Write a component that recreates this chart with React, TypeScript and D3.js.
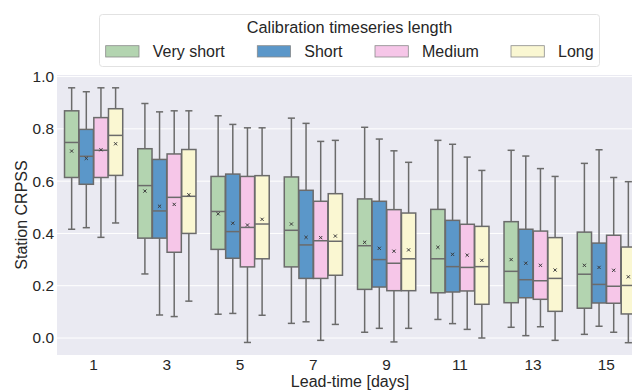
import { useRef, useEffect } from 'react';
import * as d3 from 'd3';

// lead times (x categories)
const leadTimes = ['1', '3', '5', '7', '9', '11', '13', '15'];
const hues = ['Very short', 'Short', 'Medium', 'Long'];
const hueColors = ['#b3d4b0', '#5b97c9', '#f6c6e8', '#faf7d2'];
const yTicks = [0.0, 0.2, 0.4, 0.6, 0.8, 1.0];

// [lowWhisker, q1, median, q3, highWhisker, mean] per lead time
const veryShort = [
    [0.416, 0.614, 0.748, 0.869, 0.957, 0.715],
    [0.245, 0.382, 0.583, 0.724, 0.897, 0.562],
    [0.091, 0.339, 0.484, 0.618, 0.850, 0.475],
    [0.056, 0.272, 0.412, 0.616, 0.841, 0.436],
    [0.022, 0.186, 0.353, 0.532, 0.806, 0.366],
    [0.071, 0.173, 0.303, 0.492, 0.756, 0.347],
    [0.041, 0.135, 0.255, 0.445, 0.718, 0.300],
    [0.014, 0.114, 0.244, 0.405, 0.668, 0.278],
];
const short = [
    [0.422, 0.588, 0.695, 0.798, 0.942, 0.687],
    [0.088, 0.382, 0.486, 0.683, 0.865, 0.504],
    [0.094, 0.305, 0.407, 0.627, 0.817, 0.439],
    [0.062, 0.228, 0.356, 0.565, 0.821, 0.385],
    [0.037, 0.195, 0.300, 0.523, 0.761, 0.343],
    [0.055, 0.176, 0.273, 0.450, 0.741, 0.320],
    [0.009, 0.154, 0.223, 0.416, 0.696, 0.286],
    [0.045, 0.134, 0.205, 0.363, 0.720, 0.270],
];
const medium = [
    [0.385, 0.614, 0.718, 0.843, 0.957, 0.720],
    [0.082, 0.328, 0.538, 0.704, 0.869, 0.511],
    [-0.017, 0.272, 0.423, 0.618, 0.804, 0.432],
    [-0.009, 0.228, 0.372, 0.523, 0.752, 0.384],
    [-0.015, 0.181, 0.286, 0.491, 0.716, 0.332],
    [0.033, 0.180, 0.270, 0.435, 0.692, 0.317],
    [0.043, 0.148, 0.219, 0.409, 0.648, 0.278],
    [0.022, 0.133, 0.198, 0.393, 0.614, 0.259],
];
const long = [
    [0.440, 0.622, 0.775, 0.877, 0.957, 0.743],
    [0.141, 0.400, 0.542, 0.721, 0.869, 0.548],
    [0.087, 0.303, 0.436, 0.621, 0.804, 0.454],
    [0.052, 0.240, 0.370, 0.552, 0.756, 0.390],
    [0.037, 0.181, 0.303, 0.478, 0.672, 0.337],
    [0.000, 0.129, 0.273, 0.427, 0.641, 0.297],
    [-0.009, 0.102, 0.228, 0.384, 0.618, 0.260],
    [-0.018, 0.092, 0.201, 0.348, 0.598, 0.234],
];
const series = [veryShort, short, medium, long];

const font = '"Liberation Sans", Arial, sans-serif';

export default function App() {
    const ref = useRef<SVGSVGElement>(null);

    useEffect(() => {
        if (!ref.current) return;
        const svg = d3.select(ref.current);
        svg.selectAll('*').remove();

        const width = 632;
        const height = 391;
        const margin = { top: 75, left: 57, bottom: 36 };
        const plotRight = 643;

        svg.append('rect').attr('width', width).attr('height', height).attr('fill', '#ffffff');

        const x = d3.scaleBand()
            .domain(leadTimes)
            .range([margin.left, plotRight]);
        const y = d3.scaleLinear()
            .domain([-0.065, 1.006])
            .range([height - margin.bottom, margin.top]);

        // background
        svg.append('rect')
            .attr('x', margin.left).attr('y', margin.top)
            .attr('width', plotRight - margin.left)
            .attr('height', height - margin.bottom - margin.top)
            .attr('fill', '#eaeaf2');

        // gridlines
        svg.append('g').selectAll('line').data(yTicks).join('line')
            .attr('x1', margin.left).attr('x2', plotRight)
            .attr('y1', d => y(d)).attr('y2', d => y(d))
            .attr('stroke', '#ffffff').attr('stroke-width', 1);

        // y tick labels
        svg.append('g').selectAll('text').data(yTicks).join('text')
            .attr('x', 54).attr('y', d => y(d))
            .attr('dy', '0.35em')
            .attr('text-anchor', 'end')
            .style('font-family', font).style('font-size', '15.4px').style('fill', '#262626')
            .text(d => d.toFixed(1));

        // x tick labels
        svg.append('g').selectAll('text').data(leadTimes).join('text')
            .attr('x', d => (x(d) ?? 0) + x.bandwidth() / 2)
            .attr('y', 370)
            .attr('text-anchor', 'middle')
            .style('font-family', font).style('font-size', '15.4px').style('fill', '#262626')
            .text(d => d);

        // axis titles
        svg.append('text')
            .attr('x', (margin.left + plotRight) / 2).attr('y', 387)
            .attr('text-anchor', 'middle')
            .style('font-family', font).style('font-size', '16px').style('fill', '#262626')
            .text('Lead-time [days]');
        svg.append('text')
            .attr('transform', `translate(26.5, ${(margin.top + height - margin.bottom) / 2}) rotate(-90)`)
            .attr('text-anchor', 'middle')
            .style('font-family', font).style('font-size', '16px').style('fill', '#262626')
            .text('Station CRPSS');

        // boxes
        const groupWidth = x.bandwidth() * 0.8;
        const slot = groupWidth / hues.length;
        const boxW = slot - 0.4;
        const edge = '#6b6b6b';
        const g = svg.append('g');

        series.forEach((values, h) => {
            values.forEach((v, i) => {
                const [lo, q1, med, q3, hi, mean] = v;
                const cx = (x(leadTimes[i]) ?? 0) + x.bandwidth() / 2 - groupWidth / 2 + slot * (h + 0.5);
                const bg = g.append('g');
                // whiskers
                bg.append('line')
                    .attr('x1', cx).attr('x2', cx)
                    .attr('y1', y(q3)).attr('y2', y(hi))
                    .attr('stroke', edge).attr('stroke-width', 1.5);
                bg.append('line')
                    .attr('x1', cx).attr('x2', cx)
                    .attr('y1', y(q1)).attr('y2', y(lo))
                    .attr('stroke', edge).attr('stroke-width', 1.5);
                // caps
                [lo, hi].forEach(c => {
                    bg.append('line')
                        .attr('x1', cx - boxW / 4).attr('x2', cx + boxW / 4)
                        .attr('y1', y(c)).attr('y2', y(c))
                        .attr('stroke', edge).attr('stroke-width', 1.5);
                });
                // box
                bg.append('rect')
                    .attr('x', cx - boxW / 2).attr('width', boxW)
                    .attr('y', y(q3)).attr('height', y(q1) - y(q3))
                    .attr('fill', hueColors[h])
                    .attr('stroke', edge).attr('stroke-width', 1.5);
                // median
                bg.append('line')
                    .attr('x1', cx - boxW / 2).attr('x2', cx + boxW / 2)
                    .attr('y1', y(med)).attr('y2', y(med))
                    .attr('stroke', edge).attr('stroke-width', 1.5);
                // mean marker
                const m = 1.6;
                bg.append('path')
                    .attr('d', `M${cx - m},${y(mean) - m}L${cx + m},${y(mean) + m}M${cx - m},${y(mean) + m}L${cx + m},${y(mean) - m}`)
                    .attr('stroke', '#3a3a3a').attr('stroke-width', 1);
            });
        });

        // legend
        const lg = svg.append('g');
        lg.append('rect')
            .attr('x', 99.5).attr('y', 14.5).attr('width', 500).attr('height', 52)
            .attr('rx', 3)
            .attr('fill', '#ffffff').attr('stroke', '#e2e2e2').attr('stroke-width', 1);
        lg.append('text')
            .attr('x', 349.5).attr('y', 33.3)
            .attr('text-anchor', 'middle')
            .style('font-family', font).style('font-size', '16.3px').style('fill', '#262626')
            .text('Calibration timeseries length');
        const patchX = [105.7, 257.3, 375, 511];
        hues.forEach((name, h) => {
            lg.append('rect')
                .attr('x', patchX[h]).attr('y', 45.7).attr('width', 33.3).attr('height', 11.3)
                .attr('fill', hueColors[h]).attr('stroke', '#8a8a8a').attr('stroke-width', 0.8);
            lg.append('text')
                .attr('x', patchX[h] + 47).attr('y', 57.3)
                .style('font-family', font).style('font-size', '16px').style('fill', '#262626')
                .text(name);
        });
    }, []);

    return (
        <svg ref={ref} width={632} height={391} style={{ position: 'absolute', left: 0, top: 0, display: 'block' }} />
    );
}
